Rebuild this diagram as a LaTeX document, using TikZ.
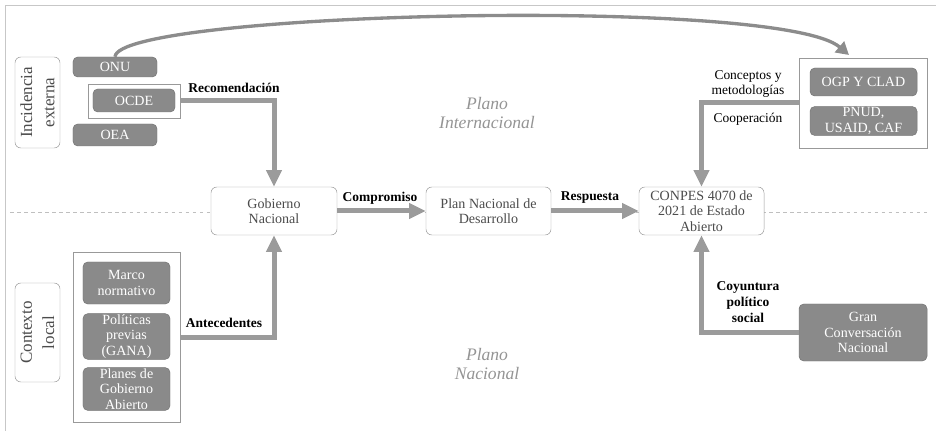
\documentclass[tikz,border=0pt]{standalone}
\usepackage{fontspec}
\setmainfont{Liberation Serif}
\usetikzlibrary{arrows.meta}

\definecolor{arrgray}{HTML}{9B9B9B}
\definecolor{boxgray}{HTML}{8A8A8A}
\definecolor{edgegray}{HTML}{999999}

\begin{document}
\begin{tikzpicture}[
  x=0.03cm, y=-0.03cm,
  font=\fontsize{12}{13}\selectfont,
  box/.style={draw=edgegray, fill=white, rounded corners=5pt, align=center, inner sep=2pt, text=black!70},
  dark/.style={draw=black!55, fill=boxgray, rounded corners=4pt, align=center, inner sep=1pt, text=white},
  frame/.style={draw=edgegray, fill=white, inner sep=0pt},
  tag/.style={box, rotate=90, font=\fontsize{14.5}{19}\selectfont, minimum width=#1, minimum height=1.35cm},
  lab/.style={font=\fontsize{11.5}{13.5}\selectfont\bfseries, align=center},
  plano/.style={font=\fontsize{15}{16.5}\selectfont\itshape, text=black!42, align=center},
  arr/.style={-{Triangle[length=0.5cm, width=0.45cm]}, line width=0.15cm, draw=arrgray}
]
\useasboundingbox (0,0) rectangle (936,431);

% page frame and the line between the two planes
\draw[black!22] (5,431) -- (5,5) -- (936,5);
\draw[black!25, dashed] (10,212) -- (928,212);

\node[plano] (pint) at (487,113) {Plano\\Internacional};
\node[plano] (pnac) at (487,364) {Plano\\Nacional};

% left column: external bodies
\node[tag=2.73cm] (ext) at (37.5,102.5) {Incidencia\\externa};
\node[dark, minimum width=2.52cm, minimum height=0.6cm] (onu) at (115,67) {ONU};
\node[frame, minimum width=2.76cm, minimum height=1.02cm] (ocdebox) at (134,101) {};
\node[dark, minimum width=2.46cm, minimum height=0.69cm] (ocde) at (134,100.5) {OCDE};
\node[dark, minimum width=2.52cm, minimum height=0.66cm] (oea) at (115,135) {OEA};

% left column: local context
\node[tag=2.97cm] (loc) at (37.5,332.5) {Contexto\\local};
\node[frame, minimum width=3.21cm, minimum height=5.1cm] (ctx) at (126.5,337) {};
\node[dark, minimum width=2.61cm, minimum height=1.26cm] (marco) at (126.5,283) {Marco\\normativo};
\node[dark, minimum width=2.61cm, minimum height=1.29cm] (pol) at (126.5,336.5) {Políticas\\previas\\(GANA)};
\node[dark, minimum width=2.61cm, minimum height=1.26cm] (planes) at (126.5,389) {Planes de\\Gobierno\\Abierto};

% middle row
\node[box, minimum width=3.78cm, minimum height=1.44cm] (gob) at (274,211) {Gobierno\\Nacional};
\node[box, minimum width=3.75cm, minimum height=1.44cm] (pnd) at (488.5,211) {Plan Nacional de\\Desarrollo};
\node[box, minimum width=3.75cm, minimum height=1.44cm] (conpes) at (701.5,211) {CONPES 4070 de\\2021 de Estado\\Abierto};

% right column
\node[frame, minimum width=3.84cm, minimum height=2.7cm] (intl) at (863,103) {};
\node[dark, minimum width=3.21cm, minimum height=0.84cm] (ogp) at (863.5,82) {OGP Y CLAD};
\node[dark, minimum width=3.21cm, minimum height=0.84cm] (pnud) at (863.5,121) {PNUD,\\USAID, CAF};
\node[dark, minimum width=3.84cm, minimum height=1.71cm] (gran) at (863,332.5) {Gran\\Conversación\\Nacional};

% connector labels
\node[lab] (lrec) at (234,88) {Recomendación};
\node[lab] (lant) at (224,323) {Antecedentes};
\node[lab] (lcom) at (380,198) {Compromiso};
\node[lab] (lres) at (590,198) {Respuesta};
\node[lab, font=\fontsize{11.5}{13.5}\selectfont] (lcon) at (748,84) {Conceptos y\\metodologías};
\node[lab, font=\fontsize{11.5}{13.5}\selectfont] (lcoo) at (748,119) {Cooperación};
\node[lab] (lcoy) at (748,302) {Coyuntura\\político\\social};

% connectors
\draw[arr] (ocdebox.east) -| (gob.north);
\draw[arr] (ctx.east) -| (gob.south);
\draw[arr] (gob) -- (pnd);
\draw[arr] (pnd) -- (conpes);
\draw[arr] (intl.west) -| (conpes.north);
\draw[arr] (gran.west) -| (conpes.south);

\coordinate (bend) at (849,55);
\draw[-{Triangle[length=0.38cm, width=0.42cm]}, line width=0.1cm, draw=black!45]
  (onu.north) .. controls (118,12) and (780,-4) .. (bend);

\end{tikzpicture}
\end{document}
